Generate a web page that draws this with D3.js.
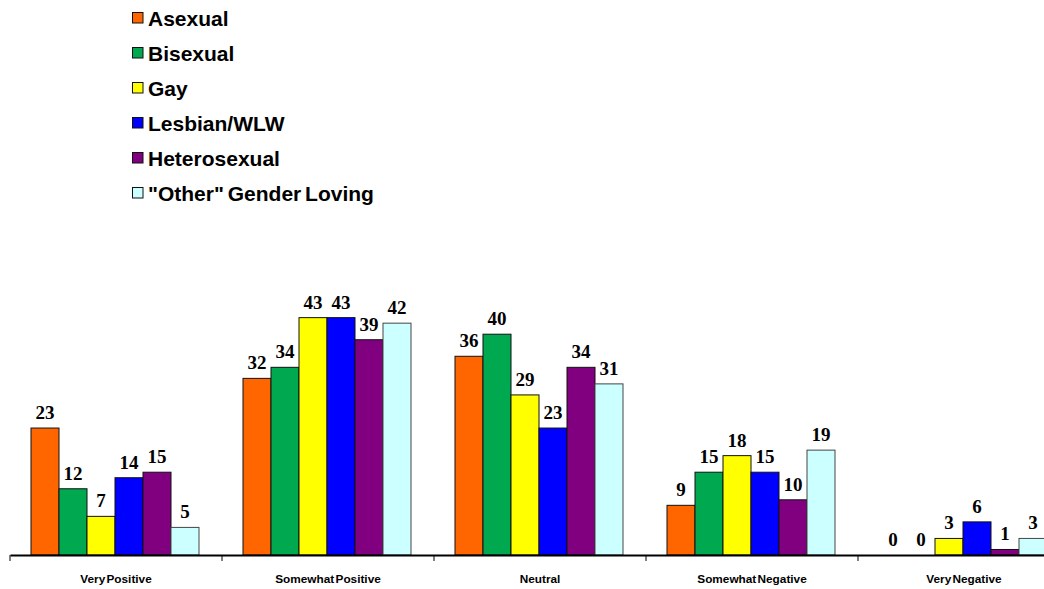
<!DOCTYPE html>
<html><head><meta charset="utf-8">
<script src="https://cdn.jsdelivr.net/npm/d3@7"></script>
<style>html,body{margin:0;padding:0;background:#fff;overflow:hidden}</style>
</head><body><svg id="c" width="1044" height="589"></svg>
<script>
const categories = ["Very Positive","Somewhat Positive","Neutral","Somewhat Negative","Very Negative"];
const seriesNames = ["Asexual","Bisexual","Gay","Lesbian/WLW","Heterosexual","\"Other\" Gender Loving"];
const asexual = [23,32,36,9,0];
const bisexual = [12,34,40,15,0];
const gay = [7,43,29,18,3];
const lesbian = [14,43,23,15,6];
const heterosexual = [15,39,34,10,1];
const other = [5,42,31,19,3];
const colors = ["#FF6600","#00A84F","#FFFF00","#0000FF","#800080","#CCFFFF"];

const series = [asexual,bisexual,gay,lesbian,heterosexual,other];
const svg = d3.select("#c");

const x0 = d3.scaleBand().domain(categories).range([10,1070]).padding(0);
const x1 = d3.scaleBand().domain(d3.range(series.length)).range([21, 189]).padding(0);
const y = d3.scaleLinear().domain([0,50]).range([555,279]);

const g = svg.append("g");
categories.forEach((c,ci)=>{
  const grp = g.append("g").attr("transform",`translate(${x0(c)},0)`);
  series.forEach((s,si)=>{
    const v = s[ci];
    if (v>0) grp.append("rect")
      .attr("x",x1(si)).attr("y",y(v))
      .attr("width",x1.bandwidth()).attr("height",y(0)-y(v))
      .attr("fill",colors[si]).attr("stroke",si===5?"#444":"#111").attr("stroke-width",1);
    grp.append("text")
      .attr("x",x1(si)+x1.bandwidth()/2).attr("y",y(v)-9)
      .attr("text-anchor","middle")
      .attr("font-family","'Liberation Serif','Times New Roman',serif")
      .attr("font-weight","bold").attr("font-size",19)
      .text(v);
  });
});

// axis
const axis = d3.axisBottom(x0).tickSize(0).tickPadding(0).tickFormat("");
const ax = svg.append("g").attr("transform","translate(0,555)").call(axis);
ax.select(".domain").attr("stroke","#000").attr("stroke-width",2);
// boundary ticks
const bounds = categories.map(c=>x0(c)).concat([x0.range()[1]]);
svg.selectAll(".btick").data(bounds).enter().append("line")
  .attr("x1",d=>d).attr("x2",d=>d).attr("y1",555).attr("y2",561)
  .attr("stroke","#000").attr("stroke-width",1);
svg.selectAll(".clab").data(categories).enter().append("text")
  .attr("x",d=>x0(d)+x0.bandwidth()/2).attr("y",582.5)
  .attr("text-anchor","middle")
  .attr("font-family","'Liberation Sans',Arial,sans-serif")
  .attr("font-weight","bold").attr("font-size",11.8).attr("word-spacing",-2)
  .text(d=>d);

// legend
const lg = svg.append("g");
seriesNames.forEach((n,i)=>{
  const yy = 26 + i*35;
  lg.append("rect").attr("x",132.5).attr("y",yy-13.5).attr("width",10.5).attr("height",10.5)
    .attr("fill",colors[i]).attr("stroke","#111").attr("stroke-width",1);
  lg.append("text").attr("x",148).attr("y",yy)
    .attr("font-family","'Liberation Sans',Arial,sans-serif")
    .attr("font-weight","bold").attr("font-size",21)
    .attr("word-spacing",-2)
    .text(n);
});
</script></body></html>
